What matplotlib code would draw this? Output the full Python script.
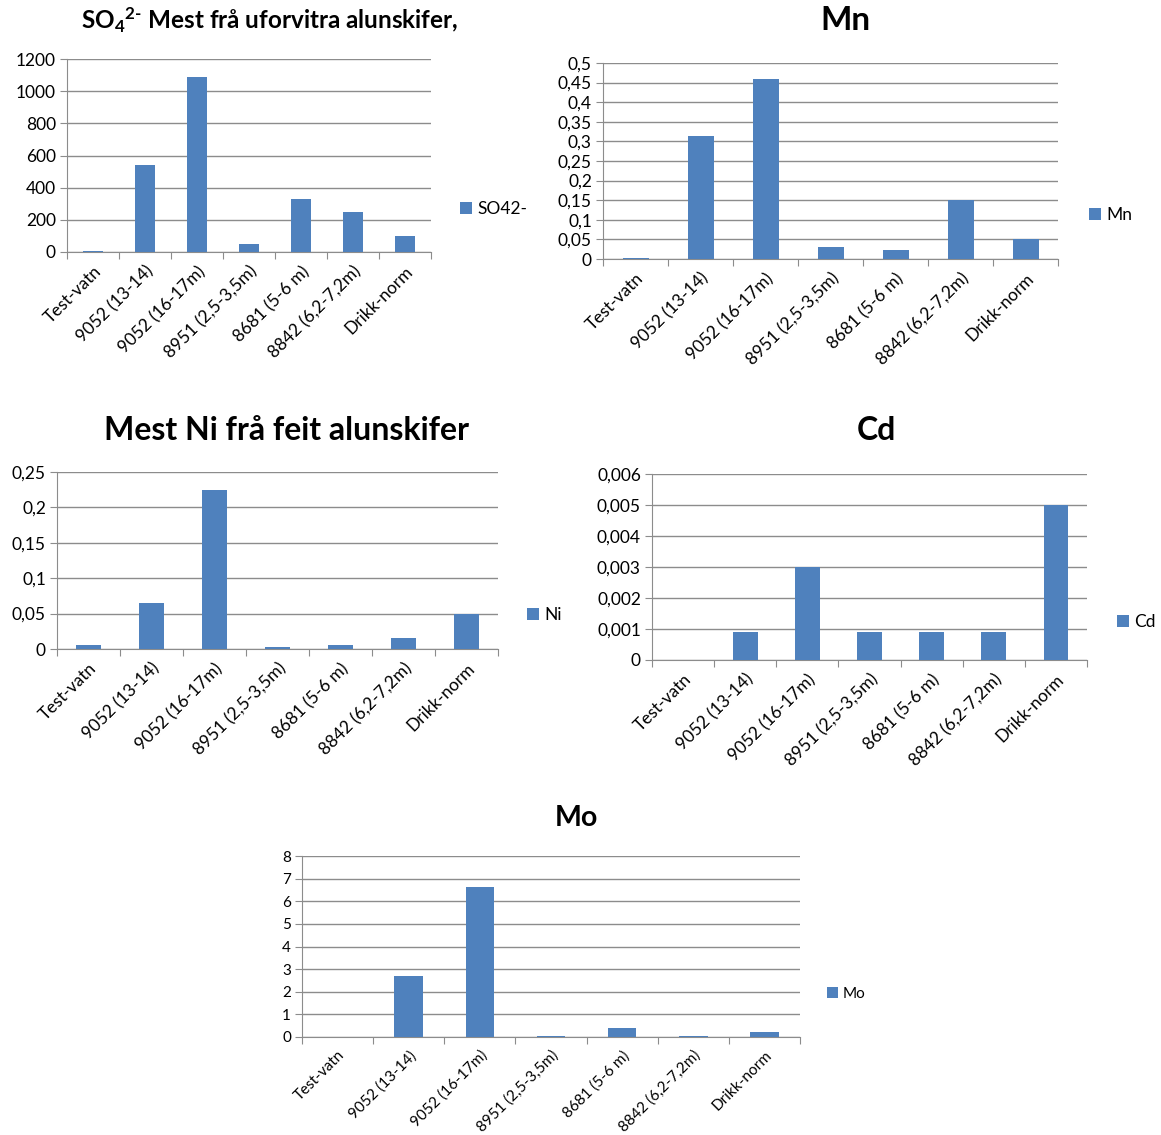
import matplotlib
matplotlib.use("Agg")
import matplotlib.pyplot as plt
from matplotlib.ticker import FixedLocator, FuncFormatter, MultipleLocator

plt.rcParams['font.family'] = ['Lato', 'DejaVu Sans']
plt.rcParams['mathtext.fontset'] = 'custom'
plt.rcParams['mathtext.rm'] = 'Lato:bold'
plt.rcParams['mathtext.it'] = 'Lato:bold'
plt.rcParams['mathtext.bf'] = 'Lato:bold'

samples = ['Test-vatn', '9052 (13-14)', '9052 (16-17m)', '8951 (2,5-3,5m)',
           '8681 (5-6 m)', '8842 (6,2-7,2m)', 'Drikk-norm']

so4 = [5, 540, 1090, 50, 330, 250, 100]
mn = [0.003, 0.315, 0.458, 0.03, 0.023, 0.15, 0.05]
ni = [0.005, 0.065, 0.224, 0.003, 0.006, 0.015, 0.05]
cd = [0, 0.0009, 0.003, 0.0009, 0.0009, 0.0009, 0.005]
mo = [0, 2.7, 6.65, 0.05, 0.4, 0.05, 0.2]

BLUE = '#4f81bd'
GRID = '#8c8c8c'
W, H = 1161, 1135


def comma(v, pos=None):
    return ('%g' % round(v, 6)).replace('.', ',')


def panel(box, values, ymax, step, series, title, title_xy, title_size,
          legend_xy, fs=12.5):
    l, r, t, b = box
    ax = fig.add_axes([l / W, 1 - b / H, (r - l) / W, (b - t) / H])
    x = range(len(values))
    ax.bar(x, values, width=0.4, color=BLUE, label=series, zorder=3)
    ax.set_xlim(-0.5, len(values) - 0.5)
    ax.set_ylim(0, ymax)

    ax.yaxis.set_major_locator(MultipleLocator(step))
    ax.yaxis.set_major_formatter(FuncFormatter(comma))
    ax.grid(axis='y', color=GRID, lw=1, zorder=0)

    # category boundaries carry the tick marks, centres carry the labels
    ax.xaxis.set_major_locator(FixedLocator([i - 0.5 for i in range(len(values) + 1)]))
    ax.xaxis.set_major_formatter(FuncFormatter(lambda v, p: ''))
    ax.xaxis.set_minor_locator(FixedLocator(list(x)))
    ax.set_xticklabels(samples, minor=True, rotation=45, ha='right',
                       rotation_mode='anchor', fontsize=fs)
    ax.tick_params(axis='x', which='major', length=5, color=GRID, direction='out')
    ax.tick_params(axis='x', which='minor', length=0, pad=8)
    ax.tick_params(axis='y', length=5, color=GRID, labelsize=fs, pad=3)

    for s in ['top', 'right']:
        ax.spines[s].set_visible(False)
    for s in ['left', 'bottom']:
        ax.spines[s].set_color(GRID)

    fig.text(title_xy[0] / W, 1 - title_xy[1] / H, title, ha='center', va='center',
             fontsize=title_size, fontweight='bold')
    ax.legend(loc='center left', bbox_to_anchor=(legend_xy[0] / W, 1 - legend_xy[1] / H),
              bbox_transform=fig.transFigure, frameon=False, fontsize=fs,
              handlelength=0.7, handleheight=0.7, handletextpad=0.3,
              borderpad=0, borderaxespad=0)
    return ax


fig = plt.figure(figsize=(W / 100, H / 100), dpi=100)

panel((67, 431, 59, 252), so4, 1200, 200, 'SO42-',
      r'SO$_4$$^{2\text{-}}$ Mest frå uforvitra alunskifer,', (270, 20), 17.5, (460, 209))
panel((603, 1058, 63, 259), mn, 0.5, 0.05, 'Mn', 'Mn', (845, 20), 24, (1089, 215))
panel((57, 498, 472, 649), ni, 0.25, 0.05, 'Ni', 'Mest Ni frå feit alunskifer',
      (287, 430), 23, (527, 615))
panel((652, 1087, 474, 660), cd, 0.006, 0.001, 'Cd', 'Cd', (876, 430), 23, (1117, 622))
panel((302, 800, 856, 1037), mo, 8, 1, 'Mo', 'Mo', (576, 818), 20.5, (827, 994), fs=11)

fig.savefig('out.png', dpi=100)
